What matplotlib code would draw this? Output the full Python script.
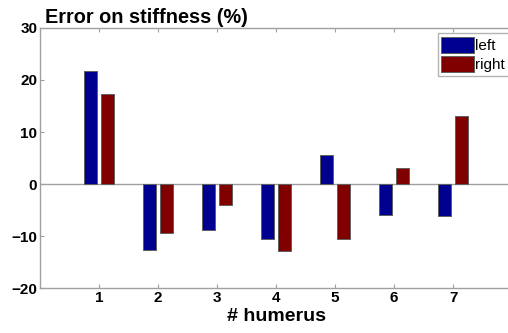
import numpy as np
import matplotlib.pyplot as plt

plt.rcParams['font.family'] = ['Liberation Sans', 'DejaVu Sans']

humerus = [1, 2, 3, 4, 5, 6, 7]
err_left = [21.8, -12.6, -8.9, -10.6, 5.6, -6.0, -6.1]
err_right = [17.4, -9.5, -4.1, -12.8, -10.6, 3.0, 13.1]

BLUE = '#000090'
RED = '#800000'
AX_GRAY = '#a0a0a0'

fig = plt.figure(figsize=(5.08, 3.33), dpi=100)
ax = fig.add_axes([0.079, 0.135, 0.929, 0.781])

x = np.array(humerus)
w = 0.23
ax.bar(x - 0.145, err_left, width=w, color=BLUE, edgecolor='#606060', linewidth=0.7, label='left', zorder=3)
ax.bar(x + 0.145, err_right, width=w, color=RED, edgecolor='#606060', linewidth=0.7, label='right', zorder=3)
ax.axhline(0, color=AX_GRAY, lw=1.0, zorder=2)

ax.set_xlim(0, 8)
ax.set_ylim(-20, 30)
ax.set_xticks(humerus)
ax.set_yticks([-20, -10, 0, 10, 20, 30])
for sp in ax.spines.values():
    sp.set_color(AX_GRAY)
    sp.set_linewidth(1.0)
ax.tick_params(direction='in', length=3, color=AX_GRAY, top=True, right=True,
               labelsize=11, pad=2)
for lab in ax.get_xticklabels() + ax.get_yticklabels():
    lab.set_fontweight('bold')

ax.set_xlabel('# humerus', fontsize=14, fontweight='bold', labelpad=2)
fig.text(0.089, 0.931, 'Error on stiffness (%)', fontsize=14.3, fontweight='bold',
         ha='left', va='baseline')

leg = ax.legend(loc='upper right', bbox_to_anchor=(0.9934, 0.98), fontsize=11, frameon=True,
                fancybox=False, edgecolor=AX_GRAY, handlelength=2.1, handleheight=1.2,
                handletextpad=0.12, borderpad=0.25, labelspacing=0.2, borderaxespad=0)
leg.get_frame().set_linewidth(1.0)

fig.savefig('out.png', dpi=100)
